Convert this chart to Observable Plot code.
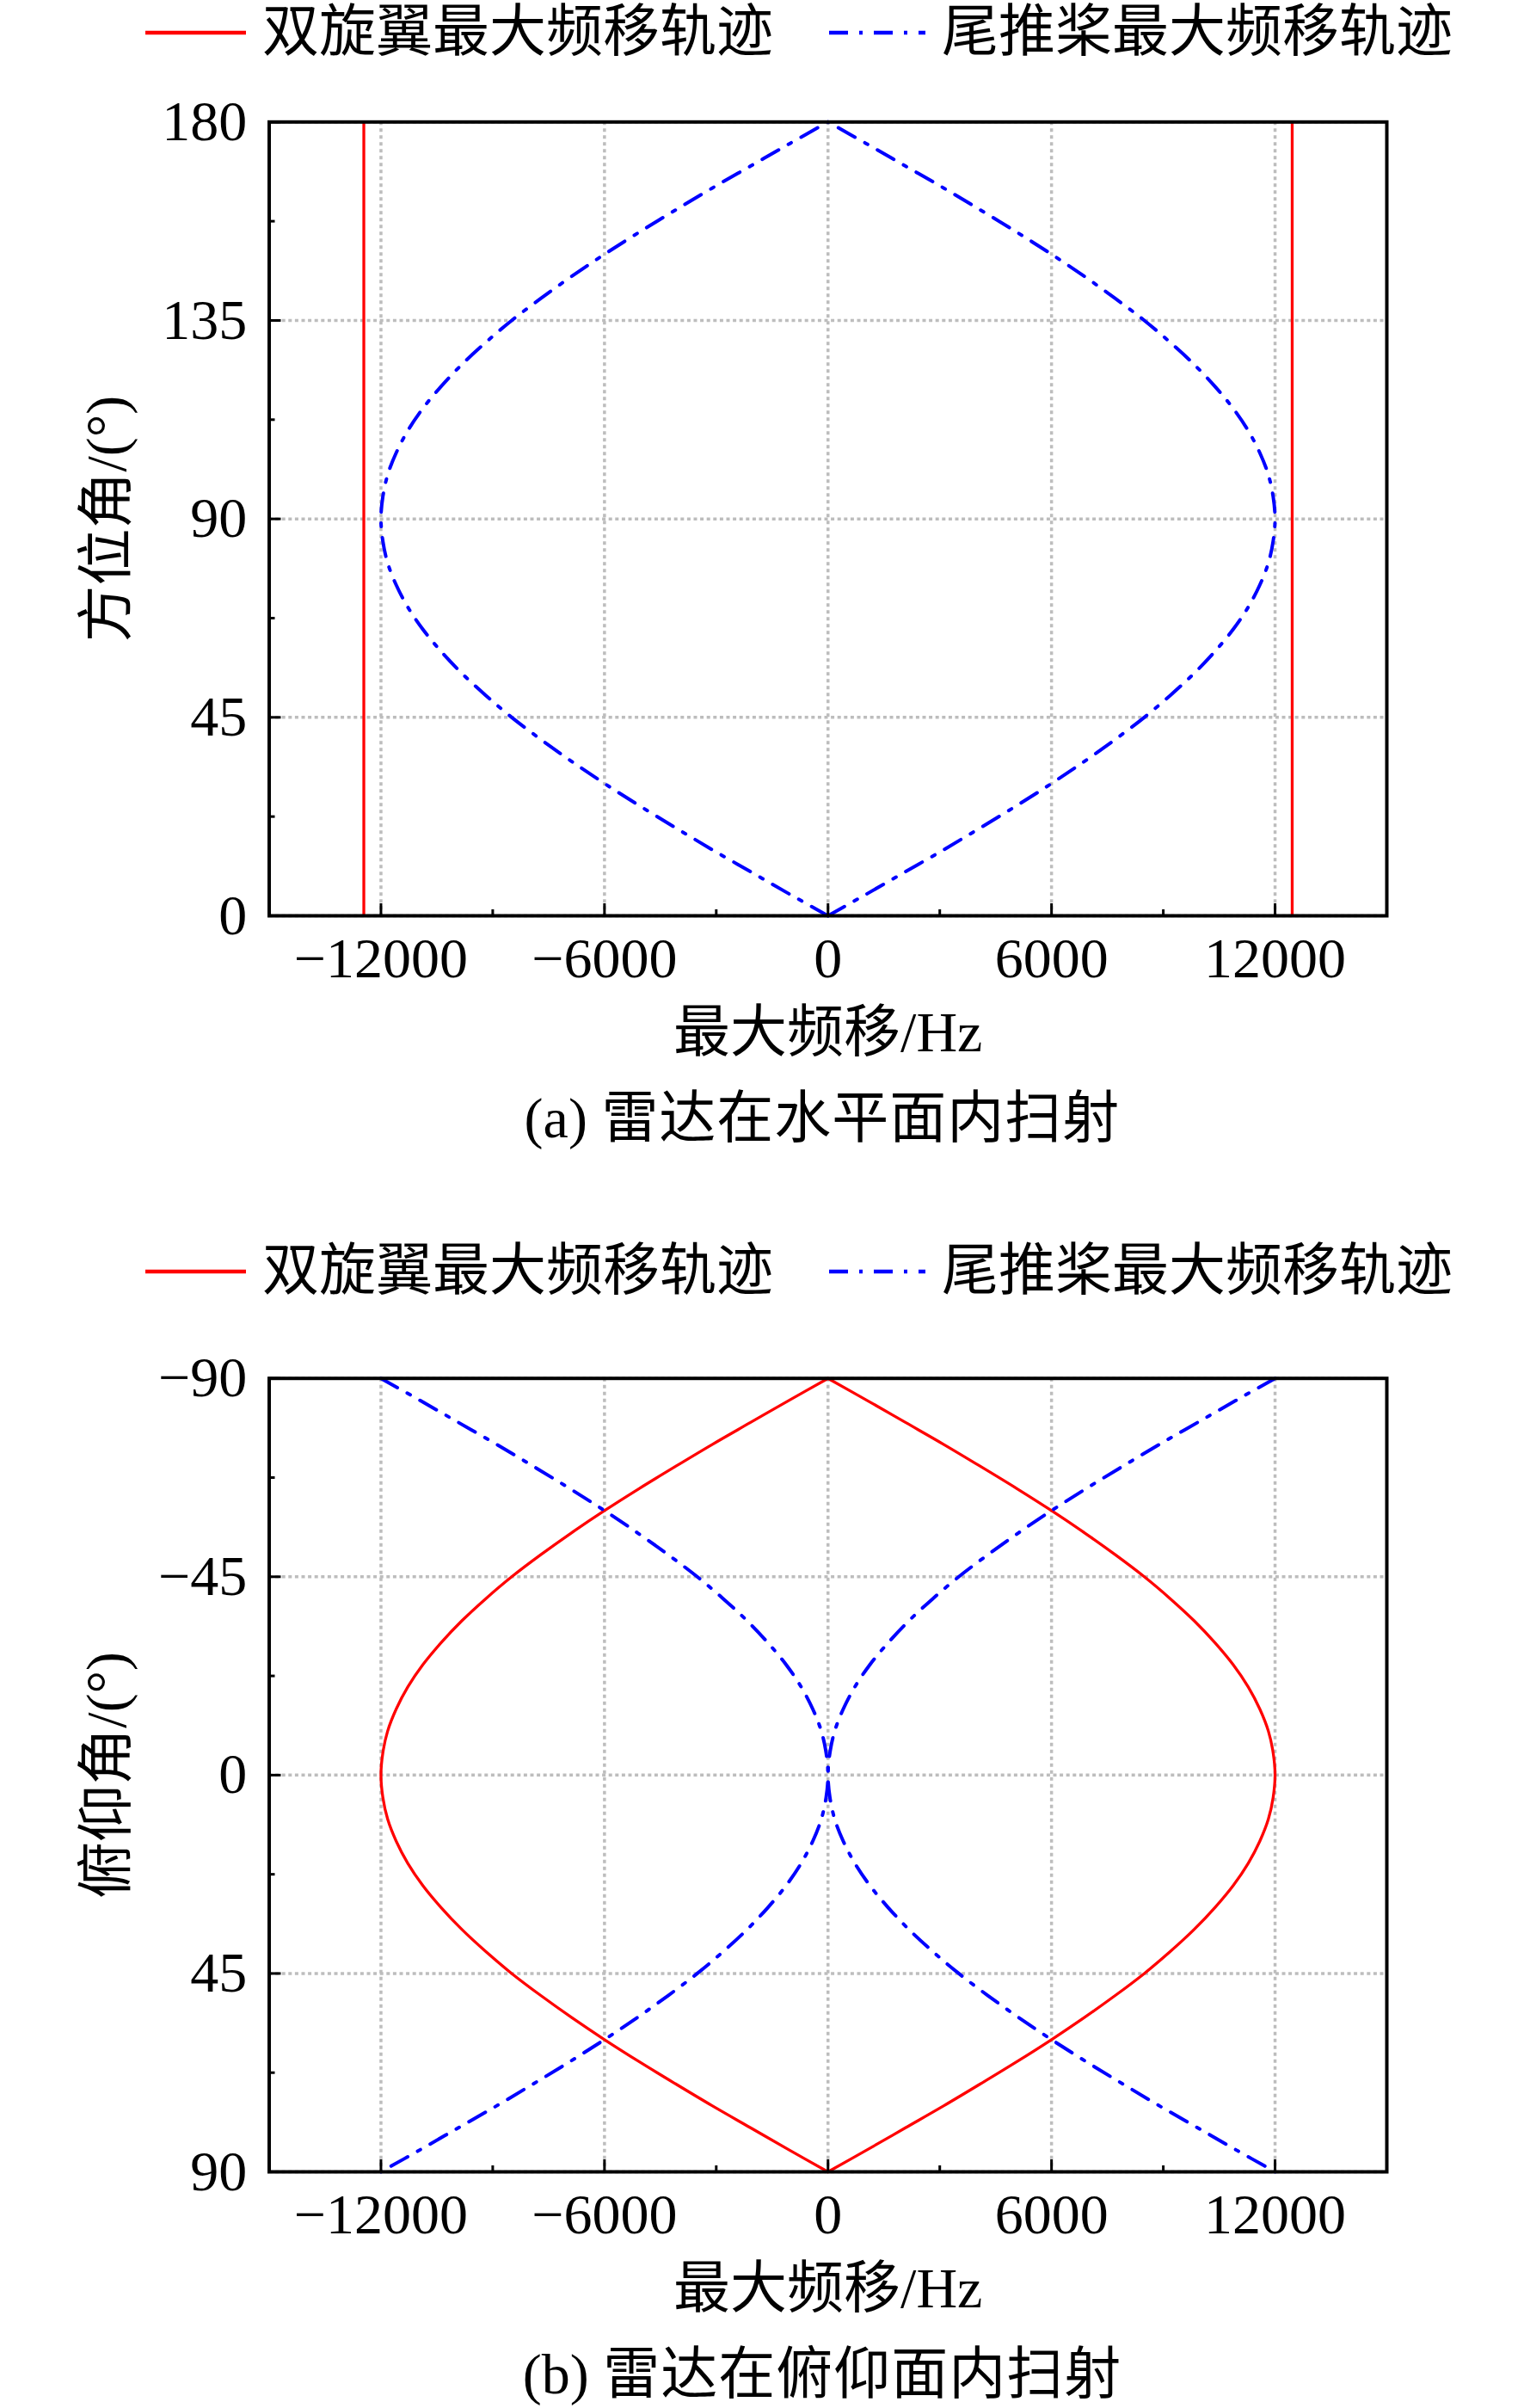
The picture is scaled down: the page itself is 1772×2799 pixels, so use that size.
<!DOCTYPE html>
<html>
<head>
<meta charset="utf-8">
<script src="https://cdn.jsdelivr.net/npm/d3@7"></script>
<script src="https://cdn.jsdelivr.net/npm/@observablehq/plot@0.6"></script>
<style>
  html, body { margin: 0; padding: 0; background: #fff; }
  #page { position: relative; width: 1772px; height: 2799px; background: #fff; overflow: hidden; }
  .caption { position: absolute; left: 0; width: 1912px; text-align: center;
    font-family: "Liberation Serif", "Noto Sans CJK SC", serif; font-size: 66px;
    height: 80px; line-height: 80px; color: #000; white-space: nowrap; }
  .caption .cjk { letter-spacing: 1px; }
</style>
</head>
<body>
<div id="page"></div>
<script>
// ---------- data ----------
const legendLabels = ["双旋翼最大频移轨迹", "尾推桨最大频移轨迹"];
const xLabel = "最大频移/Hz";
const yLabelA = "方位角/(°)";
const yLabelB = "俯仰角/(°)";
const captionA = ["(a) ", "雷达在水平面内扫射"];
const captionB = ["(b) ", "雷达在俯仰面内扫射"];

const xMajor = [-12000, -6000, 0, 6000, 12000];
const xMinor = [-9000, -3000, 3000, 9000];
const yMajorA = [0, 45, 90, 135, 180];
const yMinorA = [22.5, 67.5, 112.5, 157.5];
const yMajorB = [-90, -45, 0, 45, 90];
const yMinorB = [-67.5, -22.5, 22.5, 67.5];

// (a) azimuth sweep
const azimuthDeg = [0,5,10,15,20,25,30,35,40,45,50,55,60,65,70,75,80,85,90,
  95,100,105,110,115,120,125,130,135,140,145,150,155,160,165,170,175,180];
const tailAzHz = [0,1050,2080,3110,4100,5070,6000,6880,7710,8490,9190,9830,10390,10880,11280,11590,11820,11950,12000,
  11950,11820,11590,11280,10880,10390,9830,9190,8490,7710,6880,6000,5070,4100,3110,2080,1050,0];
const rotorAzHz = [-12460, 12460];

// (b) elevation sweep
const elevationDeg = [-90,-85,-80,-75,-70,-65,-60,-55,-50,-45,-40,-35,-30,-25,-20,-15,-10,-5,0,
  5,10,15,20,25,30,35,40,45,50,55,60,65,70,75,80,85,90];
const rotorElHz = [0,1050,2080,3110,4100,5070,6000,6880,7710,8490,9190,9830,10390,10880,11280,11590,11820,11950,12000,
  11950,11820,11590,11280,10880,10390,9830,9190,8490,7710,6880,6000,5070,4100,3110,2080,1050,0];
const tailElHz = [12000,10950,9920,8890,7900,6930,6000,5120,4290,3510,2810,2170,1610,1120,720,410,180,50,0,
  50,180,410,720,1120,1610,2170,2810,3510,4290,5120,6000,6930,7900,8890,9920,10950,12000];

// ---------- styles ----------
const RED = "#ff0000";
const BLUE = "#0000ff";
const GRID = "#bdbdbd";
const DASHDOT = "22,13,4,13";
const FONT = "'Liberation Serif', 'Noto Sans CJK SC', serif";

const fmt = d => d < 0 ? "\u2212" + Math.abs(d) : String(d);

const page = document.getElementById("page");

function mirrored(ys, xs) {
  return [
    ...ys.map((y, i) => ({y, x: -xs[i], side: "L"})),
    ...ys.map((y, i) => ({y, x: xs[i], side: "R"}))
  ];
}

function legend(top) {
  const svg = d3.create("svg")
    .attr("width", 1772).attr("height", 76)
    .style("position", "absolute").style("left", "0px").style("top", top + "px")
    .style("font-family", FONT).style("font-size", "66px");
  svg.append("line").attr("x1", 169).attr("x2", 286).attr("y1", 38).attr("y2", 38)
    .attr("stroke", RED).attr("stroke-width", 4.5);
  svg.append("text").attr("x", 305).attr("y", 36).attr("dominant-baseline", "central")
    .attr("fill", "#000").text(legendLabels[0]);
  svg.append("line").attr("x1", 964).attr("x2", 1076).attr("y1", 38).attr("y2", 38)
    .attr("stroke", BLUE).attr("stroke-width", 4.5).attr("stroke-dasharray", DASHDOT);
  svg.append("text").attr("x", 1095).attr("y", 36).attr("dominant-baseline", "central")
    .attr("fill", "#000").text(legendLabels[1]);
  page.appendChild(svg.node());
}

function caption(centerY, parts) {
  const div = document.createElement("div");
  div.className = "caption";
  div.style.top = (centerY - 40) + "px";
  const a = document.createElement("span"); a.textContent = parts[0];
  const b = document.createElement("span"); b.className = "cjk"; b.textContent = parts[1];
  div.appendChild(a); div.appendChild(b);
  page.appendChild(div);
}

function panel({top, marginTop, yDomain, yReverse, yMajor, yMinor, yLabel, dataMarks}) {
  const chart = Plot.plot({
    width: 1772,
    height: 1150,
    marginLeft: 312.5,
    marginRight: 160,
    marginTop,
    marginBottom: 186,
    x: {domain: [-15000, 15000]},
    y: {domain: yDomain, reverse: yReverse},
    style: {fontFamily: FONT, fontSize: "66px", background: "transparent", color: "#000", overflow: "visible"},
    marks: [
      Plot.gridX({ticks: xMajor, stroke: GRID, strokeOpacity: 1, strokeWidth: 3.5, strokeDasharray: "4,4"}),
      Plot.gridY({ticks: yMajor, stroke: GRID, strokeOpacity: 1, strokeWidth: 3.5, strokeDasharray: "4,3.6"}),
      ...dataMarks,
      Plot.axisX({ticks: xMajor, tickSize: -14, tickPadding: 39, strokeWidth: 3, tickFormat: fmt, label: null}),
      Plot.axisX({ticks: xMinor, tickSize: -7, tickPadding: 0, strokeWidth: 3, tickFormat: () => "", label: null}),
      Plot.axisY({ticks: yMajor, tickSize: -14, tickPadding: 39.7, strokeWidth: 3, tickFormat: fmt, label: null}),
      Plot.axisY({ticks: yMinor, tickSize: -7, tickPadding: 0, strokeWidth: 3, tickFormat: () => "", label: null}),
      Plot.text([xLabel], {text: d => d, frameAnchor: "bottom", dy: 136, lineAnchor: "middle", textAnchor: "middle", fontSize: 66}),
      Plot.text([yLabel], {text: d => d, frameAnchor: "left", dx: 124 - 312.5, rotate: -90, lineAnchor: "middle", textAnchor: "middle", fontSize: 66}),
      Plot.frame({stroke: "#000", strokeWidth: 4})
    ]
  });
  chart.style.position = "absolute";
  chart.style.left = "0px";
  chart.style.top = top + "px";
  page.appendChild(chart);
}

// ---------- panel (a) ----------
legend(0);
panel({
  top: 100,
  marginTop: 41.3,
  yDomain: [0, 180],
  yReverse: false,
  yMajor: yMajorA,
  yMinor: yMinorA,
  yLabel: yLabelA,
  dataMarks: [
    Plot.ruleX(rotorAzHz, {y1: 0, y2: 180, stroke: RED, strokeWidth: 3.3}),
    Plot.line(mirrored(azimuthDeg, tailAzHz), {x: "x", y: "y", z: "side", curve: "catmull-rom",
      stroke: BLUE, strokeWidth: 4, strokeDasharray: DASHDOT})
  ]
});
caption(1300, captionA);

// ---------- panel (b) ----------
legend(1440);
panel({
  top: 1560,
  marginTop: 41.7,
  yDomain: [-90, 90],
  yReverse: true,
  yMajor: yMajorB,
  yMinor: yMinorB,
  yLabel: yLabelB,
  dataMarks: [
    Plot.line(mirrored(elevationDeg, rotorElHz), {x: "x", y: "y", z: "side", curve: "catmull-rom",
      stroke: RED, strokeWidth: 3.3}),
    Plot.line(mirrored(elevationDeg, tailElHz), {x: "x", y: "y", z: "side", curve: "catmull-rom",
      stroke: BLUE, strokeWidth: 4, strokeDasharray: DASHDOT})
  ]
});
caption(2760, captionB);
</script>
</body>
</html>
